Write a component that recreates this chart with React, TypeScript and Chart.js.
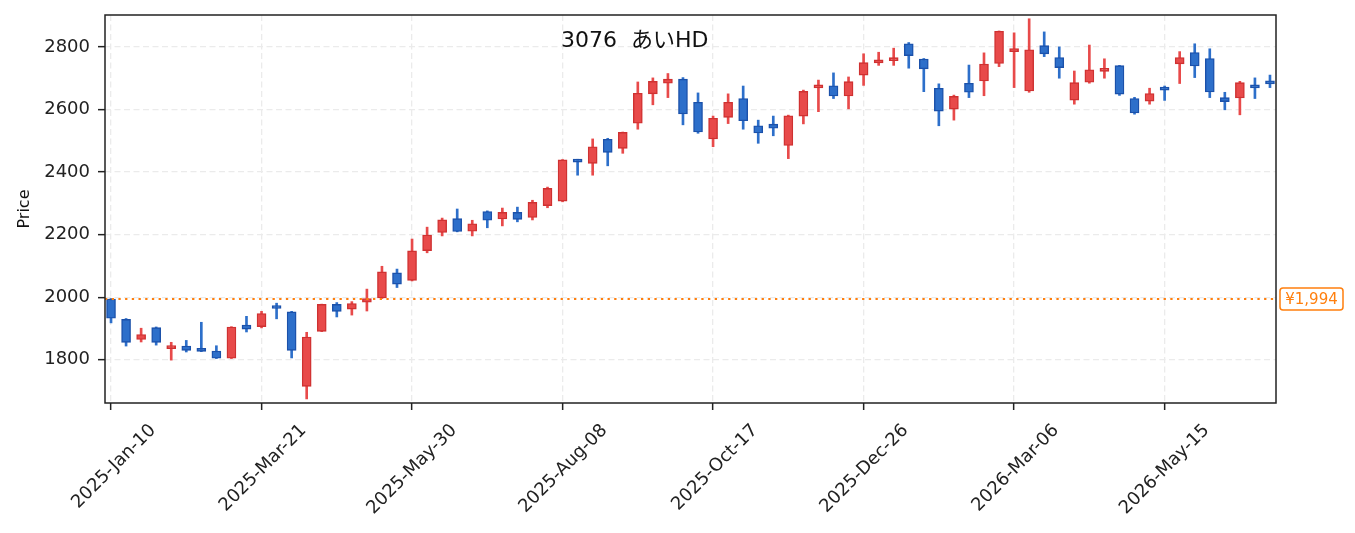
import { useEffect, useRef } from "react";
import { Chart, registerables } from "chart.js";

Chart.register(...registerables);

const TITLE = "3076  あいHD";
const Y_TITLE = "Price";
const REF_PRICE = 1994;
const REF_LABEL = "¥1,994";

// weekly candles, index 0 = 2025-Jan-10
const TICK_POS = [0, 10, 20, 30, 40, 50, 60, 70];
const TICK_LABELS = [
  "2025-Jan-10", "2025-Mar-21", "2025-May-30", "2025-Aug-08",
  "2025-Oct-17", "2025-Dec-26", "2026-Mar-06", "2026-May-15",
];
const Y_TICKS = [1800, 2000, 2200, 2400, 2600, 2800];

const OPEN = [
  1994, 1929, 1865, 1903, 1836, 1844, 1835, 1828, 1805, 1911,
  1906, 1967, 1953, 1715, 1891, 1977, 1962, 1984, 1998, 2078,
  2054, 2149, 2207, 2251, 2211, 2274, 2250, 2271, 2255, 2293,
  2307, 2439, 2428, 2505, 2476, 2556, 2650, 2684, 2697, 2623,
  2506, 2575, 2635, 2548, 2553, 2485, 2579, 2669, 2676, 2643,
  2710, 2749, 2756, 2810, 2761, 2668, 2601, 2684, 2691, 2747,
  2785, 2659, 2804, 2766, 2630, 2687, 2722, 2740, 2635, 2627,
  2671, 2746, 2782, 2763, 2638, 2637, 2676, 2692,
];
const HIGH = [
  1996, 1932, 1901, 1905, 1856, 1862, 1920, 1845, 1906, 1939,
  1955, 1981, 1955, 1888, 1978, 1983, 1986, 2026, 2099, 2090,
  2186, 2224, 2253, 2282, 2246, 2276, 2285, 2288, 2310, 2352,
  2440, 2441, 2506, 2508, 2528, 2688, 2701, 2715, 2702, 2653,
  2579, 2650, 2675, 2566, 2579, 2582, 2662, 2694, 2717, 2704,
  2778, 2783, 2796, 2814, 2763, 2682, 2646, 2742, 2781, 2851,
  2845, 2890, 2848, 2800, 2723, 2806, 2762, 2741, 2639, 2668,
  2675, 2785, 2810, 2794, 2655, 2690, 2701, 2710,
];
const LOW = [
  1918, 1844, 1857, 1847, 1799, 1825, 1826, 1804, 1804, 1889,
  1902, 1931, 1806, 1675, 1890, 1937, 1943, 1956, 1996, 2031,
  2052, 2142, 2196, 2209, 2196, 2222, 2228, 2241, 2247, 2286,
  2305, 2390, 2390, 2420, 2460, 2537, 2615, 2638, 2551, 2524,
  2481, 2555, 2537, 2492, 2516, 2443, 2554, 2593, 2635, 2602,
  2677, 2741, 2741, 2732, 2657, 2548, 2566, 2638, 2644, 2737,
  2670, 2655, 2769, 2700, 2617, 2684, 2700, 2645, 2585, 2617,
  2629, 2683, 2702, 2638, 2599, 2583, 2635, 2670,
];
const CLOSE = [
  1933, 1856, 1881, 1856, 1839, 1830, 1827, 1805, 1905, 1898,
  1948, 1964, 1830, 1873, 1977, 1955, 1980, 1996, 2081, 2042,
  2148, 2199, 2247, 2210, 2235, 2246, 2271, 2249, 2303, 2348,
  2439, 2432, 2481, 2463, 2527, 2652, 2690, 2697, 2586, 2528,
  2572, 2623, 2564, 2525, 2540, 2580, 2658, 2677, 2643, 2689,
  2750, 2756, 2763, 2772, 2730, 2595, 2642, 2655, 2745, 2850,
  2795, 2791, 2778, 2734, 2686, 2727, 2725, 2649, 2589, 2651,
  2662, 2766, 2739, 2656, 2625, 2686, 2669, 2682,
];

const FONT = '"DejaVu Sans", "Noto Sans CJK JP", sans-serif';
const UP_FILL = "#e84a4a";
const UP_EDGE = "#cf3131";
const DOWN_FILL = "#2d6fca";
const DOWN_EDGE = "#1b51aa";
const REF_COLOR = "#ff7f0e";

const decor = {
  id: "decor",
  afterDatasetsDraw(chart: Chart) {
    const { ctx, chartArea: a } = chart;
    const y = chart.scales.y;
    const ry = y.getPixelForValue(REF_PRICE);
    ctx.save();

    // reference price line
    ctx.strokeStyle = REF_COLOR;
    ctx.lineWidth = 2;
    ctx.setLineDash([2.3, 4.4]);
    ctx.beginPath();
    ctx.moveTo(a.left, ry);
    ctx.lineTo(a.right, ry);
    ctx.stroke();
    ctx.setLineDash([]);

    // frame
    ctx.strokeStyle = "#222";
    ctx.lineWidth = 1.5;
    ctx.strokeRect(a.left, a.top, a.right - a.left, a.bottom - a.top);

    // price tag
    const bx = a.right + 4, bw = 63, bh = 22;
    ctx.beginPath();
    ctx.roundRect(bx, ry - bh / 2, bw, bh, 3);
    ctx.fillStyle = "#fff";
    ctx.fill();
    ctx.strokeStyle = REF_COLOR;
    ctx.lineWidth = 1.5;
    ctx.stroke();
    ctx.fillStyle = REF_COLOR;
    ctx.font = `15px ${FONT}`;
    ctx.textAlign = "center";
    ctx.textBaseline = "middle";
    ctx.fillText(REF_LABEL, bx + bw / 2, ry + 0.5);

    // title
    ctx.fillStyle = "#111";
    ctx.font = `22px ${FONT}`;
    ctx.textAlign = "left";
    ctx.fillText(TITLE, 561, a.top + 26);

    // y axis title
    ctx.font = `16px ${FONT}`;
    ctx.textAlign = "center";
    ctx.translate(25, (a.top + a.bottom) / 2);
    ctx.rotate(-Math.PI / 2);
    ctx.fillText(Y_TITLE, 0, 0);

    ctx.restore();
  },
};

export default function App() {
  const canvasRef = useRef<HTMLCanvasElement>(null);
  const chartRef = useRef<Chart | null>(null);

  useEffect(() => {
    if (!canvasRef.current) return;
    if (chartRef.current) chartRef.current.destroy();

    const up = CLOSE.map((c, i) => c >= OPEN[i]);
    const bodies = OPEN.map((o, i) => ({ x: i, y: [o, CLOSE[i]] }));
    const wicks = LOW.map((l, i) => ({ x: i, y: [l, HIGH[i]] }));

    chartRef.current = new Chart(canvasRef.current, {
      type: "bar",
      data: {
        datasets: [
          {
            label: "body",
            data: bodies as any,
            backgroundColor: up.map((u) => (u ? UP_FILL : DOWN_FILL)),
            borderColor: up.map((u) => (u ? UP_EDGE : DOWN_EDGE)),
            borderWidth: 1.4,
            borderSkipped: false,
            barThickness: 9,
            minBarLength: 3,
            grouped: false,
          },
          {
            label: "wick",
            data: wicks as any,
            backgroundColor: up.map((u) => (u ? UP_FILL : DOWN_FILL)),
            borderWidth: 0,
            barThickness: 2,
            grouped: false,
          },
        ],
      },
      options: {
        animation: false,
        responsive: true,
        maintainAspectRatio: false,
        layout: { padding: { left: 0, right: 79, top: 15, bottom: 0 } },
        plugins: {
          legend: { display: false },
          tooltip: { enabled: false },
        },
        scales: {
          x: {
            type: "linear",
            min: -0.4,
            max: 77.4,
            offset: false,
            afterBuildTicks: (s: any) => {
              s.ticks = TICK_POS.map((v) => ({ value: v }));
            },
            afterFit: (s: any) => {
              s.height = 130;
              s.paddingLeft = 0;
              s.paddingRight = 0;
            },
            ticks: {
              autoSkip: false,
              minRotation: 45,
              maxRotation: 45,
              labelOffset: 42,
              padding: 10,
              color: "#222",
              font: { family: FONT, size: 18 },
              callback: (_v: any, i: number) => TICK_LABELS[i],
            },
            grid: {
              color: "#ebebeb",
              lineWidth: 1.3,
              offset: false,
              tickLength: 7,
              tickColor: "#222",
              tickWidth: 1.5,
              tickBorderDash: [],
            },
            border: { display: false, dash: [6, 3.5] },
          },
          y: {
            type: "linear",
            min: 1662,
            max: 2902,
            afterBuildTicks: (s: any) => {
              s.ticks = Y_TICKS.map((v) => ({ value: v }));
            },
            afterFit: (s: any) => {
              s.width = 105;
              s.paddingTop = 0;
              s.paddingBottom = 0;
            },
            ticks: {
              padding: 8,
              color: "#222",
              font: { family: FONT, size: 18 },
              callback: (v: any) => String(v),
            },
            grid: {
              color: "#ebebeb",
              lineWidth: 1.3,
              tickLength: 7,
              tickColor: "#222",
              tickWidth: 1.5,
              tickBorderDash: [],
            },
            border: { display: false, dash: [6, 3.5] },
          },
        },
      },
      plugins: [decor],
    });

    return () => {
      if (chartRef.current) {
        chartRef.current.destroy();
        chartRef.current = null;
      }
    };
  }, []);

  return (
    <div style={{ position: "fixed", left: 0, top: 0, width: 1355, height: 533, background: "#fff" }}>
      <canvas ref={canvasRef}></canvas>
    </div>
  );
}
